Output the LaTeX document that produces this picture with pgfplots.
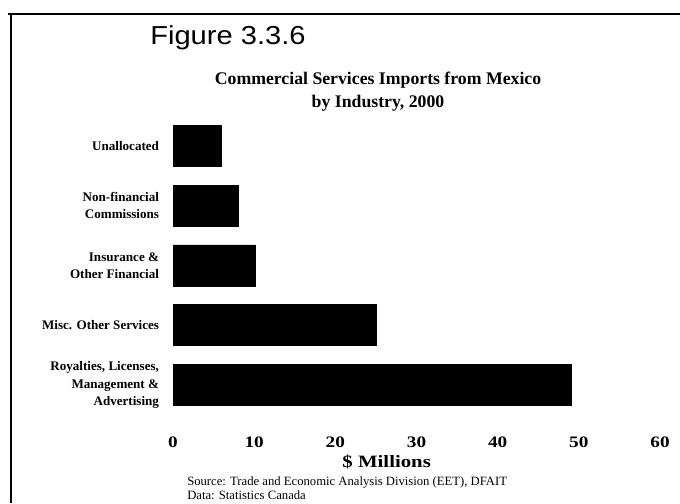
\documentclass[border=0pt]{standalone}
\usepackage{pgfplots}
\pgfplotsset{compat=1.18}
\usepackage{fontspec}
\setmainfont{Liberation Serif}
\newfontfamily\arial{Liberation Sans}[FakeStretch=1.12]
\newfontfamily\wideserif{Liberation Serif}[FakeStretch=1.2]
\begin{document}
\begin{tikzpicture}
\path[use as bounding box] (0,0) rectangle (510pt,377.25pt);
\draw[line width=1.5pt] (6pt,366.75pt) -- (510pt,366.75pt);
\draw[line width=1.5pt] (8.25pt,366.75pt) -- (8.25pt,0pt);
\node[anchor=base west,inner sep=0pt] at (112.5pt,344pt) {\arial\fontsize{19.5}{22}\selectfont Figure 3.3.6};
\node[inner sep=0pt,anchor=base,font=\bfseries\fontsize{13.3}{16}\selectfont] at (283.5pt,313.5pt) {Commercial Services Imports from Mexico};
\node[inner sep=0pt,anchor=base,font=\bfseries\fontsize{13.3}{16}\selectfont] at (283.5pt,296.25pt) {by Industry, 2000};
\begin{axis}[
  at={(129.75pt,54.9pt)}, anchor=south west,
  scale only axis, width=365.25pt, height=235.4pt,
  xbar, bar width=30.75pt,
  xmin=0, xmax=60, ymin=-0.75, ymax=4.5,
  xtick={0,10,...,60},
  ytick={0,1,2,3,4},
  yticklabels={{Royalties, Licenses,\\Management \&\\Advertising},{Misc. Other Services},{Insurance \&\\Other Financial},{Non-financial\\Commissions},{Unallocated}},
  yticklabel style={align=right, font=\bfseries\fontsize{9.8}{13}\selectfont, xshift=-7pt},
  xticklabel style={font=\wideserif\bfseries\fontsize{12}{14}\selectfont, yshift=-2pt},
  /pgf/number format/assume math mode=true,
  axis line style={draw=none},
  major tick length=0pt,
  clip=false,
]
\addplot[fill=black, draw=black] coordinates {(49.1,0) (25,1) (10.1,2) (8,3) (6,4)};
\end{axis}
\node[anchor=base,inner sep=0pt] at (290pt,27pt) {\wideserif\bfseries\fontsize{13}{15}\selectfont \$ Millions};
\node[anchor=base west,inner sep=0pt] at (140.25pt,13.5pt) {\fontsize{9.5}{11.25}\selectfont Source: Trade and Economic Analysis Division (EET), DFAIT};
\node[anchor=base west,inner sep=0pt] at (140.25pt,3pt) {\fontsize{9.5}{11.25}\selectfont Data: Statistics Canada};
\end{tikzpicture}
\end{document}
